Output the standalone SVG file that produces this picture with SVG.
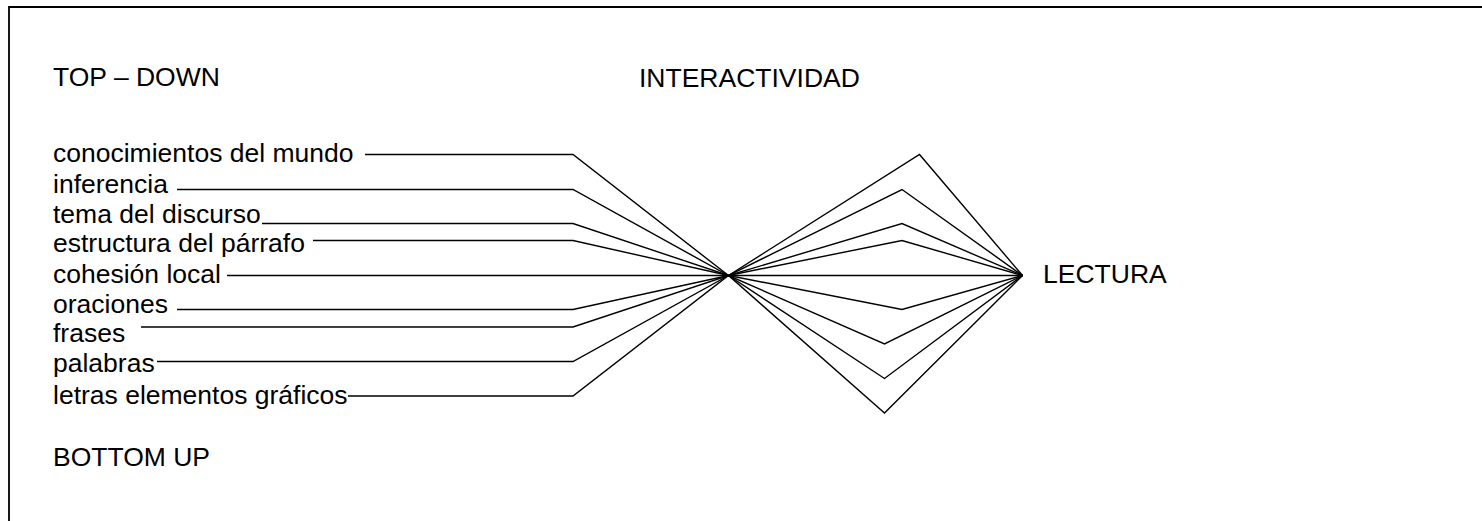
<svg xmlns="http://www.w3.org/2000/svg" width="1482" height="521" viewBox="0 0 1482 521">
<style>
text { font-family: "Liberation Sans", Arial, sans-serif; font-size: 26.5px; fill: #000; }
.ln { fill: none; stroke: #000; stroke-width: 1.4; stroke-linejoin: miter; }
.frame { fill: none; stroke: #000; stroke-width: 1.8; }
</style>
<rect width="1482" height="521" fill="#fff"/>
<path class="frame" d="M9,530 L9,7 L1490,7"/>
<g id="headings">
<g id="top-down"><text x="53" y="86">TOP – DOWN</text></g>
<g id="interactividad"><text x="639" y="86.5">INTERACTIVIDAD</text></g>
<g id="bottom-up"><text x="53" y="466">BOTTOM UP</text></g>
</g>
<g id="lectura"><text x="1043" y="283">LECTURA</text></g>
<g id="labels">
<g id="n1"><text x="53" y="162">conocimientos del mundo</text></g>
<g id="n2"><text x="53" y="193">inferencia</text></g>
<g id="n3"><text x="53" y="223">tema del discurso</text></g>
<g id="n4"><text x="53" y="252">estructura del párrafo</text></g>
<g id="n5"><text x="53" y="283">cohesión local</text></g>
<g id="n6"><text x="53" y="313">oraciones</text></g>
<g id="n7"><text x="53" y="342">frases</text></g>
<g id="n8"><text x="53" y="372">palabras</text></g>
<g id="n9"><text x="53" y="404">letras elementos gráficos</text></g>
</g>
<g id="connectors">
<polyline class="ln" points="365,154.5 573,154.5 728.5,275.5 919.5,154.5 1022.5,275.5"/>
<polyline class="ln" points="177,189.5 573,189.5 728.5,275.5 902,189.5 1022.5,275.5"/>
<polyline class="ln" points="262,223.5 573,223.5 728.5,275.5 902,223.5 1022.5,275.5"/>
<polyline class="ln" points="313,240.5 573,240.5 728.5,275.5 902,240.5 1022.5,275.5"/>
<polyline class="ln" points="227,275.5 573,275.5 728.5,275.5 884.5,275.5 1022.5,275.5"/>
<polyline class="ln" points="177,309.5 573,309.5 728.5,275.5 902,309.5 1022.5,275.5"/>
<polyline class="ln" points="141,327 573,327 728.5,275.5 884.5,344 1022.5,275.5"/>
<polyline class="ln" points="157,361.5 573,361.5 728.5,275.5 884.5,378.5 1022.5,275.5"/>
<polyline class="ln" points="348,396 573,396 728.5,275.5 884.5,413 1022.5,275.5"/>
</g>
</svg>
